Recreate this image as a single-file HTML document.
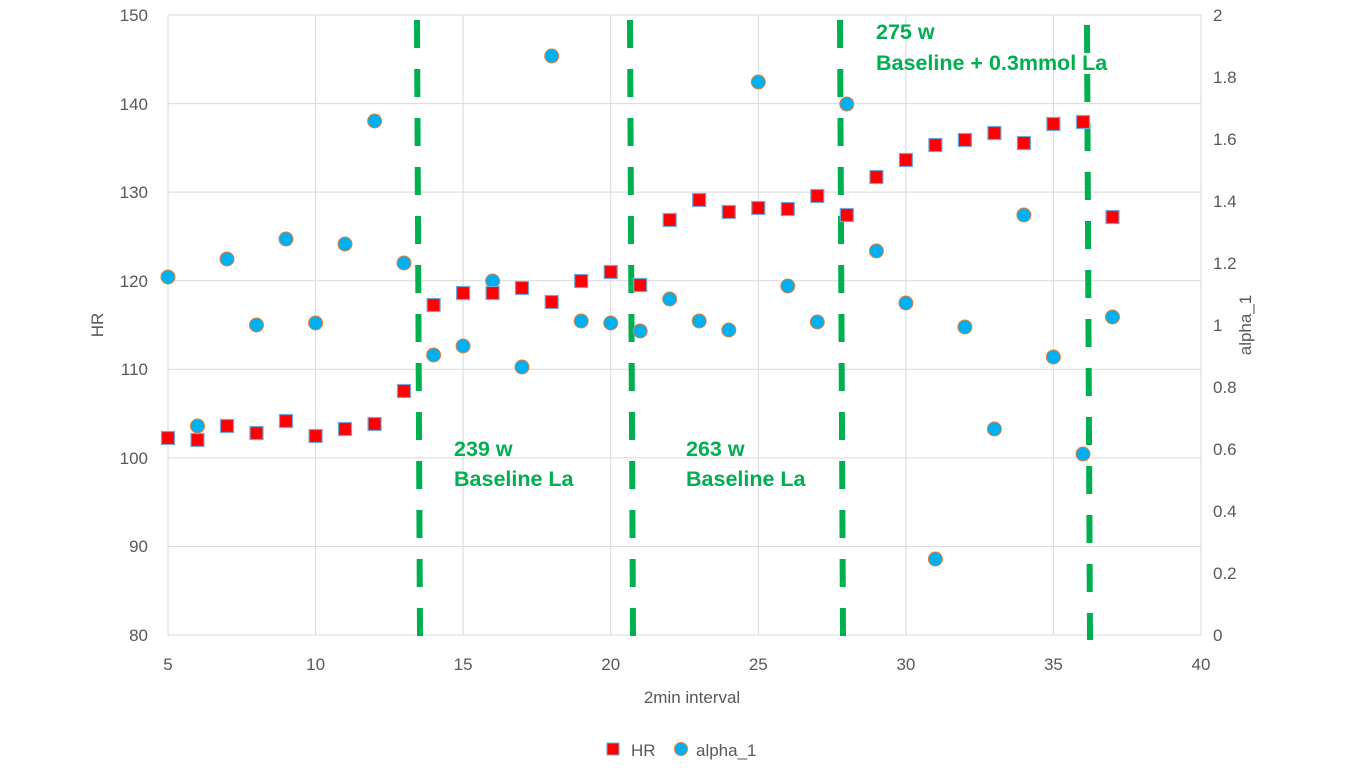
<!DOCTYPE html><html><head><style>body{margin:0;background:#fff}svg text{font-family:"Liberation Sans",sans-serif}</style></head><body>
<svg width="1356" height="768" xmlns="http://www.w3.org/2000/svg">
<g stroke="#d9d9d9" stroke-width="1">
<line x1="168" y1="15" x2="1201" y2="15"/><line x1="168" y1="103.6" x2="1201" y2="103.6"/><line x1="168" y1="192.1" x2="1201" y2="192.1"/><line x1="168" y1="280.7" x2="1201" y2="280.7"/><line x1="168" y1="369.3" x2="1201" y2="369.3"/><line x1="168" y1="457.9" x2="1201" y2="457.9"/><line x1="168" y1="546.4" x2="1201" y2="546.4"/><line x1="168" y1="635" x2="1201" y2="635"/>
<line x1="168" y1="15" x2="168" y2="635"/><line x1="315.6" y1="15" x2="315.6" y2="635"/><line x1="463.1" y1="15" x2="463.1" y2="635"/><line x1="610.7" y1="15" x2="610.7" y2="635"/><line x1="758.3" y1="15" x2="758.3" y2="635"/><line x1="905.9" y1="15" x2="905.9" y2="635"/><line x1="1053.4" y1="15" x2="1053.4" y2="635"/><line x1="1201" y1="15" x2="1201" y2="635"/>
</g>
<g fill="#595959" font-size="17">
<g text-anchor="end"><text x="148" y="21">150</text><text x="148" y="110">140</text><text x="148" y="198">130</text><text x="148" y="287">120</text><text x="148" y="375">110</text><text x="148" y="464">100</text><text x="148" y="552">90</text><text x="148" y="641">80</text></g>
<g text-anchor="start"><text x="1213" y="21">2</text><text x="1213" y="83">1.8</text><text x="1213" y="145">1.6</text><text x="1213" y="207">1.4</text><text x="1213" y="269">1.2</text><text x="1213" y="331">1</text><text x="1213" y="393">0.8</text><text x="1213" y="455">0.6</text><text x="1213" y="517">0.4</text><text x="1213" y="579">0.2</text><text x="1213" y="641">0</text></g>
<g text-anchor="middle"><text x="168" y="670">5</text><text x="315.6" y="670">10</text><text x="463.1" y="670">15</text><text x="610.7" y="670">20</text><text x="758.3" y="670">25</text><text x="905.9" y="670">30</text><text x="1053.4" y="670">35</text><text x="1201" y="670">40</text>
<text x="692" y="703">2min interval</text>
<text transform="translate(103,325) rotate(-90)">HR</text>
<text transform="translate(1251,325) rotate(-90)">alpha_1</text></g>
</g>
<g stroke="#00b050" stroke-width="6" stroke-dasharray="28 21">
<line x1="417" y1="20" x2="420" y2="636"/><line x1="630" y1="20" x2="633" y2="636"/><line x1="840" y1="20" x2="843" y2="636"/><line x1="1087" y1="25" x2="1090" y2="640"/>
</g>
<g fill="#00b050" font-size="21.5" font-weight="bold">
<text x="454" y="456">239 w</text><text x="454" y="486">Baseline La</text>
<text x="686" y="456">263 w</text><text x="686" y="486">Baseline La</text>
<text x="876" y="39">275 w</text><text x="876" y="70">Baseline + 0.3mmol La</text>
</g>
<g fill="#00b0f0" stroke="#ed7d31" stroke-width="1">
<circle cx="168" cy="277" r="7"/><circle cx="197.5" cy="426" r="7"/><circle cx="227" cy="259" r="7"/><circle cx="256.5" cy="325" r="7"/><circle cx="286" cy="239" r="7"/><circle cx="315.6" cy="323" r="7"/><circle cx="345" cy="244" r="7"/><circle cx="374.6" cy="121" r="7"/><circle cx="404" cy="263" r="7"/><circle cx="433.6" cy="355" r="7"/><circle cx="463.1" cy="346" r="7"/><circle cx="492.6" cy="281" r="7"/><circle cx="522" cy="367" r="7"/><circle cx="551.7" cy="56" r="7"/><circle cx="581.2" cy="321" r="7"/><circle cx="610.7" cy="323" r="7"/><circle cx="640.2" cy="331" r="7"/><circle cx="669.7" cy="299" r="7"/><circle cx="699.2" cy="321" r="7"/><circle cx="728.8" cy="330" r="7"/><circle cx="758.3" cy="82" r="7"/><circle cx="787.8" cy="286" r="7"/><circle cx="817.3" cy="322" r="7"/><circle cx="846.8" cy="104" r="7"/><circle cx="876.4" cy="251" r="7"/><circle cx="905.9" cy="303" r="7"/><circle cx="935.4" cy="559" r="7"/><circle cx="964.9" cy="327" r="7"/><circle cx="994.4" cy="429" r="7"/><circle cx="1023.9" cy="215" r="7"/><circle cx="1053.4" cy="357" r="7"/><circle cx="1083" cy="454" r="7"/><circle cx="1112.5" cy="317" r="7"/>
</g>
<g fill="#ff0000" stroke="#6fa8dc" stroke-width="1.2">
<rect x="161.5" y="431.5" width="13" height="13"/><rect x="191" y="433.5" width="13" height="13"/><rect x="220.5" y="419.5" width="13" height="13"/><rect x="250" y="426.5" width="13" height="13"/><rect x="279.5" y="414.5" width="13" height="13"/><rect x="309.1" y="429.5" width="13" height="13"/><rect x="338.5" y="422.5" width="13" height="13"/><rect x="368.1" y="417.5" width="13" height="13"/><rect x="397.5" y="384.5" width="13" height="13"/><rect x="427.1" y="298.5" width="13" height="13"/><rect x="456.6" y="286.5" width="13" height="13"/><rect x="486.1" y="286.5" width="13" height="13"/><rect x="515.5" y="281.5" width="13" height="13"/><rect x="545.2" y="295.5" width="13" height="13"/><rect x="574.7" y="274.5" width="13" height="13"/><rect x="604.2" y="265.5" width="13" height="13"/><rect x="633.7" y="278.5" width="13" height="13"/><rect x="663.2" y="213.5" width="13" height="13"/><rect x="692.7" y="193.5" width="13" height="13"/><rect x="722.3" y="205.5" width="13" height="13"/><rect x="751.8" y="201.5" width="13" height="13"/><rect x="781.3" y="202.5" width="13" height="13"/><rect x="810.8" y="189.5" width="13" height="13"/><rect x="840.3" y="208.5" width="13" height="13"/><rect x="869.9" y="170.5" width="13" height="13"/><rect x="899.4" y="153.5" width="13" height="13"/><rect x="928.9" y="138.5" width="13" height="13"/><rect x="958.4" y="133.5" width="13" height="13"/><rect x="987.9" y="126.5" width="13" height="13"/><rect x="1017.4" y="136.5" width="13" height="13"/><rect x="1046.9" y="117.5" width="13" height="13"/><rect x="1076.5" y="115.5" width="13" height="13"/><rect x="1106" y="210.5" width="13" height="13"/>
</g>
<rect x="607" y="743" width="12" height="12" fill="#ff0000" stroke="#6fa8dc"/>
<text x="631" y="756" font-size="17" fill="#595959">HR</text>
<circle cx="681" cy="749" r="6.5" fill="#00b0f0" stroke="#ed7d31"/>
<text x="696" y="756" font-size="17" fill="#595959">alpha_1</text>
</svg></body></html>
